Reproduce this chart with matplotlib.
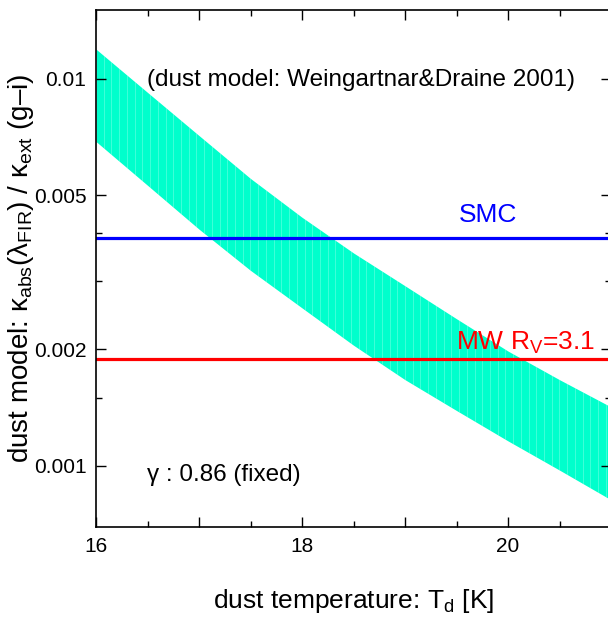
import numpy as np
import matplotlib as mpl
import matplotlib.pyplot as plt

mpl.use("Agg")

plt.rcParams["font.family"] = ["Liberation Sans", "DejaVu Sans"]
plt.rcParams["mathtext.fontset"] = "custom"
plt.rcParams["mathtext.rm"] = "Liberation Sans"
plt.rcParams["mathtext.it"] = "Liberation Sans:italic"

# dust temperature grid [K] and band edges
temp = [16.0, 16.5, 17.0, 17.5, 18.0, 18.5, 19.0, 19.5, 20.0, 20.5, 21.0]
kappa_hi = [0.01194, 0.00923, 0.00714, 0.00553, 0.00439, 0.00355,
            0.00292, 0.00240, 0.00198, 0.00167, 0.00142]
kappa_lo = [0.00689, 0.00531, 0.00409, 0.00320, 0.00256, 0.00205,
            0.00167, 0.00139, 0.00116, 0.000975, 0.000817]

# reference dust models (horizontal lines)
smc_value = 0.00387
mw_value = 0.00189

fig = plt.figure(figsize=(6.08, 6.17), dpi=100)
ax = fig.add_axes([96 / 608, 1 - 527 / 617, 515 / 608, 517 / 617])

band = ax.fill_between(temp, kappa_lo, kappa_hi, color="#00FFCC", lw=0, zorder=1)

# faint vertical seams inside the band, as in the original rendering
seams = ax.vlines(np.arange(16.0, 21.0, 0.075), 1e-4, 1e-1,
                  colors="white", lw=0.5, alpha=0.35, zorder=1.5)
seams.set_clip_path(band.get_paths()[0], ax.transData)

ax.axhline(smc_value, color="#0000FF", lw=2.3, zorder=2)
ax.axhline(mw_value, color="#FF0000", lw=2.3, zorder=2)

ax.set_yscale("log")
ax.set_xlim(16, 21)
ax.set_ylim(0.000695, 0.01507)

ax.set_xticks([16, 17, 18, 19, 20, 21])
ax.set_xticklabels(["16", "", "18", "", "20", ""])
ax.set_xticks(np.arange(16.5, 21, 1.0), minor=True)

ax.yaxis.set_major_locator(mpl.ticker.FixedLocator([0.001, 0.002, 0.005, 0.01]))
ax.yaxis.set_major_formatter(mpl.ticker.FixedFormatter(["0.001", "0.002", "0.005", "0.01"]))
ax.yaxis.set_minor_locator(mpl.ticker.FixedLocator([0.0015, 0.003, 0.004]))
ax.yaxis.set_minor_formatter(mpl.ticker.NullFormatter())

ax.tick_params(which="both", direction="in", top=True, right=True, labelsize=15, width=1.0)
ax.tick_params(which="major", length=7.5, pad=7)
ax.tick_params(which="minor", length=4)
for s in ax.spines.values():
    s.set_linewidth(1.2)

ax.set_xlabel("dust temperature: T$_{\\mathrm{d}}$ [K]", fontsize=19)
ax.xaxis.label.set_va("center")
ax.xaxis.set_label_coords(0.5, -0.144)
ax.set_ylabel("dust model: κ$_{\\mathrm{abs}}$(λ$_{\\mathrm{FIR}}$) / κ$_{\\mathrm{ext}}$ (g–i)",
              fontsize=20)
ax.yaxis.label.set_va("center")
ax.yaxis.set_label_coords(-0.1456, 0.5)

ax.text(0.099, 0.8646, "(dust model: Weingartnar&Draine 2001)", transform=ax.transAxes,
        fontsize=17.5, ha="left", va="center")
ax.text(0.099, 0.1006, "γ : 0.86 (fixed)", transform=ax.transAxes,
        fontsize=17.5, ha="left", va="center")

ax.annotate("SMC", xy=(19.81, smc_value), xytext=(0, 12), textcoords="offset points",
            ha="center", va="baseline", color="#0000FF", fontsize=19)
ax.annotate("MW R$_{\\mathrm{V}}$=3.1", xy=(20.17, mw_value), xytext=(0, 6.7),
            textcoords="offset points", ha="center", va="baseline", color="#FF0000",
            fontsize=19)

fig.savefig("out.png", dpi=100)
